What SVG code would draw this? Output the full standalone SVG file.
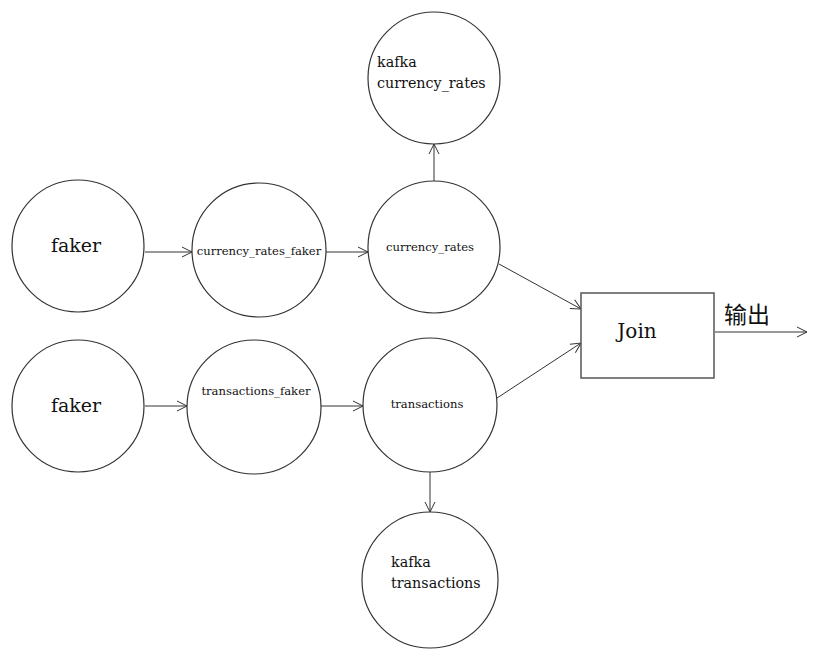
<svg xmlns="http://www.w3.org/2000/svg" width="819" height="653" viewBox="0 0 819 653">
<defs>
<marker id="a" viewBox="0 0 12 12" refX="11" refY="6" markerWidth="12" markerHeight="12" markerUnits="userSpaceOnUse" orient="auto"><path d="M1,1 L11,6 L1,11" fill="none" stroke="#333" stroke-width="1"/></marker>
<style>
circle{fill:#fff;stroke:#333;stroke-width:1.2}
.box{fill:#fff;stroke:#555;stroke-width:1.5}
text{font-family:"DejaVu Serif","Noto Sans CJK SC",serif;fill:#111}
.l{stroke:#333;stroke-width:1;fill:none;marker-end:url(#a)}
</style>
</defs>
<rect width="819" height="653" fill="#fff"/>
<g id="connectors">
<line class="l" x1="145" y1="252" x2="192" y2="252"/>
<line class="l" x1="326" y1="252" x2="368" y2="252"/>
<line class="l" x1="145" y1="406" x2="187" y2="406"/>
<line class="l" x1="321" y1="406" x2="363" y2="406"/>
<line class="l" x1="434" y1="181" x2="434" y2="144"/>
<line class="l" x1="430" y1="471" x2="430" y2="512"/>
<line class="l" x1="499" y1="264" x2="581" y2="309"/>
<line class="l" x1="494" y1="400" x2="581" y2="343"/>
<line class="l" x1="715" y1="332" x2="807" y2="332"/>
</g>
<g id="faker1"><circle cx="78" cy="246" r="66"/><text x="76" y="252" font-size="19" text-anchor="middle">faker</text></g>
<g id="faker2"><circle cx="78" cy="406" r="66"/><text x="76" y="412" font-size="19" text-anchor="middle">faker</text></g>
<g id="currency_rates_faker"><circle cx="259" cy="250" r="67"/><text x="259" y="255" font-size="11.6" text-anchor="middle">currency_rates_faker</text></g>
<g id="transactions_faker"><circle cx="254" cy="407" r="67"/><text x="256" y="395" font-size="11.6" text-anchor="middle">transactions_faker</text></g>
<g id="currency_rates"><circle cx="434" cy="247" r="66"/><text x="430" y="251" font-size="11.6" text-anchor="middle">currency_rates</text></g>
<g id="transactions"><circle cx="430" cy="405" r="67"/><text x="427" y="408" font-size="11.6" text-anchor="middle">transactions</text></g>
<g id="kafka_currency_rates"><circle cx="434" cy="78" r="66"/><text x="377" y="67" font-size="14.3">kafka</text><text x="377" y="88" font-size="14.3">currency_rates</text></g>
<g id="kafka_transactions"><circle cx="430" cy="580" r="68"/><text x="391" y="567" font-size="14.3">kafka</text><text x="391" y="588" font-size="14.3">transactions</text></g>
<g id="join"><rect class="box" x="581" y="293" width="133" height="85"/><text x="637" y="338" font-size="20" text-anchor="middle">Join</text></g>
<text x="724" y="323" font-size="23" style="font-family:'Noto Sans CJK SC',sans-serif">输出</text>
</svg>
